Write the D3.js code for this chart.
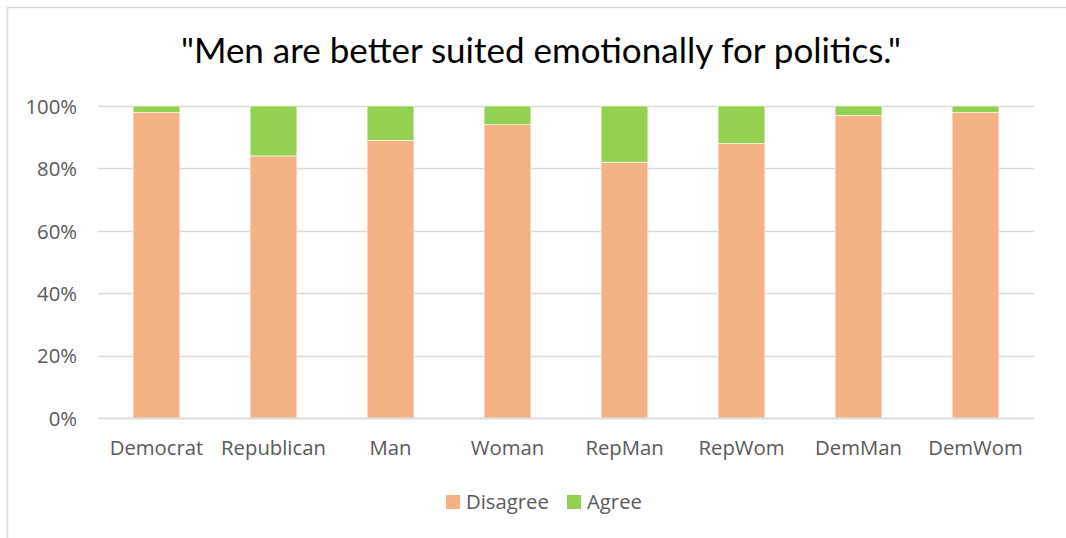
<!DOCTYPE html>
<html>
<head>
<meta charset="utf-8">
<script src="https://cdn.jsdelivr.net/npm/d3@7"></script>
<style>
  html, body { margin: 0; padding: 0; background: #fff; }
  svg { display: block; }
</style>
</head>
<body>
<svg id="chart" width="1066" height="538"></svg>
<script>
// Survey responses by group, percent of respondents
const categories = ["Democrat", "Republican", "Man", "Woman", "RepMan", "RepWom", "DemMan", "DemWom"];
const disagree = [98, 84, 89, 94, 82, 88, 97, 98];
const agree = [2, 16, 11, 6, 18, 12, 3, 2];
const seriesNames = ["Disagree", "Agree"];
const seriesColors = ["#F4B183", "#92D050"];
const yTicks = [0, 20, 40, 60, 80, 100];
const title = "\"Men are better suited emotionally for politics.\"";

const width = 1066, height = 538;
const margin = { left: 98, right: 32, top: 106, bottom: 120 };
const labelFont = "'Open Sans', sans-serif";
const labelSize = "20.3px";
const svg = d3.select("#chart");

// outer chart frame
svg.append("rect")
  .attr("x", 7.5).attr("y", 7.5)
  .attr("width", width + 10).attr("height", height + 10)
  .attr("fill", "none").attr("stroke", "#d9d9d9").attr("stroke-width", 1.5);

const rows = categories.map((c, i) => ({ category: c, Disagree: disagree[i], Agree: agree[i] }));
const stacked = d3.stack().keys(seriesNames)(rows);

const x = d3.scaleBand()
  .domain(categories)
  .range([margin.left, width - margin.right])
  .paddingInner(0.6)
  .paddingOuter(0.3);

const y = d3.scaleLinear()
  .domain([0, 100])
  .range([height - margin.bottom, margin.top]);

// gridlines
svg.append("g")
  .selectAll("line")
  .data(yTicks)
  .join("line")
  .attr("x1", margin.left).attr("x2", width - margin.right)
  .attr("y1", d => Math.round(y(d)) + 0.5).attr("y2", d => Math.round(y(d)) + 0.5)
  .attr("stroke", "#d9d9d9").attr("stroke-width", 1.3);

// stacked bars
svg.append("g")
  .selectAll("g")
  .data(stacked)
  .join("g")
  .attr("fill", (d, i) => seriesColors[i])
  .selectAll("rect")
  .data(d => d)
  .join("rect")
  .attr("x", d => x(d.data.category))
  .attr("y", d => y(d[1]))
  .attr("width", x.bandwidth())
  .attr("height", d => y(d[0]) - y(d[1]))
  .attr("stroke", "#fff")
  .attr("stroke-width", 0.6);

// baseline
svg.append("line")
  .attr("x1", margin.left).attr("x2", width - margin.right)
  .attr("y1", y(0) + 0.5).attr("y2", y(0) + 0.5)
  .attr("stroke", "#d9d9d9").attr("stroke-width", 1.5);

// y axis labels
const yAxis = d3.axisLeft(y).tickValues(yTicks).tickFormat(d => d + "%").tickSize(0).tickPadding(21);
const yg = svg.append("g").attr("transform", `translate(${margin.left},0)`).call(yAxis);
yg.select(".domain").remove();
yg.selectAll("text")
  .attr("fill", "#595959")
  .style("font-family", labelFont)
  .style("font-size", labelSize)
  .attr("dy", "0.36em");

// x axis labels
const xAxis = d3.axisBottom(x).tickSize(0).tickPadding(23);
const xg = svg.append("g").attr("transform", `translate(0,${y(0)})`).call(xAxis);
xg.select(".domain").remove();
xg.selectAll("text")
  .attr("fill", "#595959")
  .style("font-family", labelFont)
  .style("font-size", labelSize);

// title
svg.append("text")
  .attr("x", 541).attr("y", 63)
  .attr("text-anchor", "middle")
  .attr("fill", "#000")
  .style("font-family", "Lato, sans-serif")
  .style("font-size", "35px")
  .text(title);

// legend
const legendItems = [
  { name: "Disagree", color: seriesColors[0], x: 446 },
  { name: "Agree", color: seriesColors[1], x: 567 }
];
const lg = svg.append("g");
lg.selectAll("rect")
  .data(legendItems)
  .join("rect")
  .attr("x", d => d.x).attr("y", 495)
  .attr("width", 14).attr("height", 14)
  .attr("fill", d => d.color);
lg.selectAll("text")
  .data(legendItems)
  .join("text")
  .attr("x", d => d.x + 20).attr("y", 508.5)
  .attr("fill", "#595959")
  .style("font-family", labelFont)
  .style("font-size", labelSize)
  .text(d => d.name);
</script>
</body>
</html>
